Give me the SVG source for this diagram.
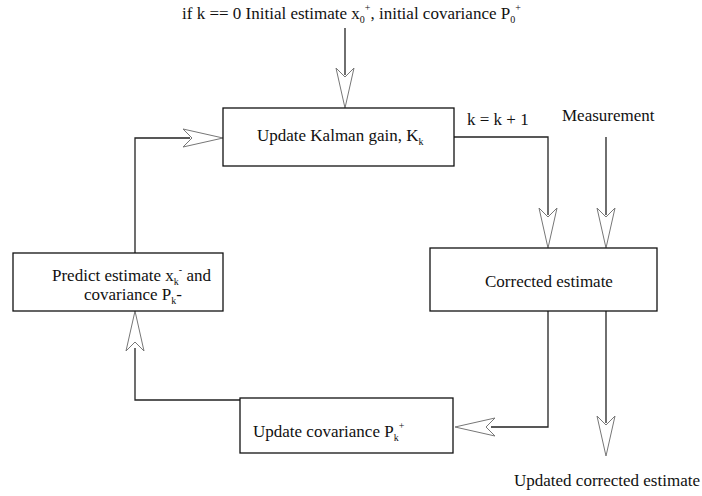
<svg xmlns="http://www.w3.org/2000/svg" width="702" height="496" viewBox="0 0 702 496">
  <style>
    text { font-family: "Liberation Serif", "Times New Roman", serif; font-size: 17px; fill: #111; }
    .sub { font-size: 10px; }
    .box { fill: #fff; stroke: #111; stroke-width: 1.3; }
    .wire { fill: none; stroke: #222; stroke-width: 1.3; }
    .head { fill: #fff; stroke: #777; stroke-width: 1; }
  </style>
  <defs>
    <!-- open arrowhead pointing down, tip at origin -->
    <path id="ah" d="M0,0 L-9,-40 L0,-31 L9,-40 Z"/>
  </defs>
  <rect width="702" height="496" fill="#fff"/>

  <!-- connectors -->
  <g id="connectors">
    <line class="wire" x1="345" y1="28" x2="345" y2="75"/>
    <use href="#ah" class="head" transform="translate(345,108)"/>

    <path class="wire" d="M454,137 H548 V215"/>
    <use href="#ah" class="head" transform="translate(548,248)"/>

    <line class="wire" x1="606" y1="137" x2="606" y2="215"/>
    <use href="#ah" class="head" transform="translate(606,248)"/>

    <path class="wire" d="M548,311 V427 H491"/>
    <use href="#ah" class="head" transform="translate(455,427) rotate(90)"/>

    <line class="wire" x1="606" y1="311" x2="606" y2="423"/>
    <use href="#ah" class="head" transform="translate(606,456)"/>

    <path class="wire" d="M240,400 H135 V348"/>
    <use href="#ah" class="head" transform="translate(135,311) rotate(180)"/>

    <path class="wire" d="M135,253 V138 H190"/>
    <use href="#ah" class="head" transform="translate(223,138) rotate(-90)"/>
  </g>

  <!-- labels on the connectors -->
  <text x="182" y="19">if k == 0 Initial estimate x<tspan class="sub" dy="4">0</tspan><tspan class="sub" dy="-12">+</tspan><tspan dy="8">, initial covariance P</tspan><tspan class="sub" dy="4">0</tspan><tspan class="sub" dy="-12">+</tspan></text>
  <text x="467" y="125">k = k + 1</text>
  <text x="562" y="121">Measurement</text>
  <text x="514" y="486">Updated corrected estimate</text>

  <g id="kalman-gain">
    <rect class="box" x="223" y="108" width="231" height="58"/>
    <text x="257" y="141">Update Kalman gain, K<tspan class="sub" dy="4">k</tspan></text>
  </g>

  <g id="corrected-estimate">
    <rect class="box" x="430" y="248" width="227" height="63"/>
    <text x="485" y="287">Corrected estimate</text>
  </g>

  <g id="predict">
    <rect class="box" x="13" y="253" width="210" height="58"/>
    <text x="52" y="281">Predict estimate x<tspan class="sub" dy="4">k</tspan><tspan class="sub" dy="-12">-</tspan><tspan dy="8"> and</tspan></text>
    <text x="84" y="300">covariance P<tspan class="sub" dy="4">k</tspan><tspan dy="-4">-</tspan></text>
  </g>

  <g id="update-covariance">
    <rect class="box" x="240" y="398" width="213" height="55"/>
    <text x="253" y="437">Update covariance P<tspan class="sub" dy="4">k</tspan><tspan class="sub" dy="-12">+</tspan></text>
  </g>
</svg>
